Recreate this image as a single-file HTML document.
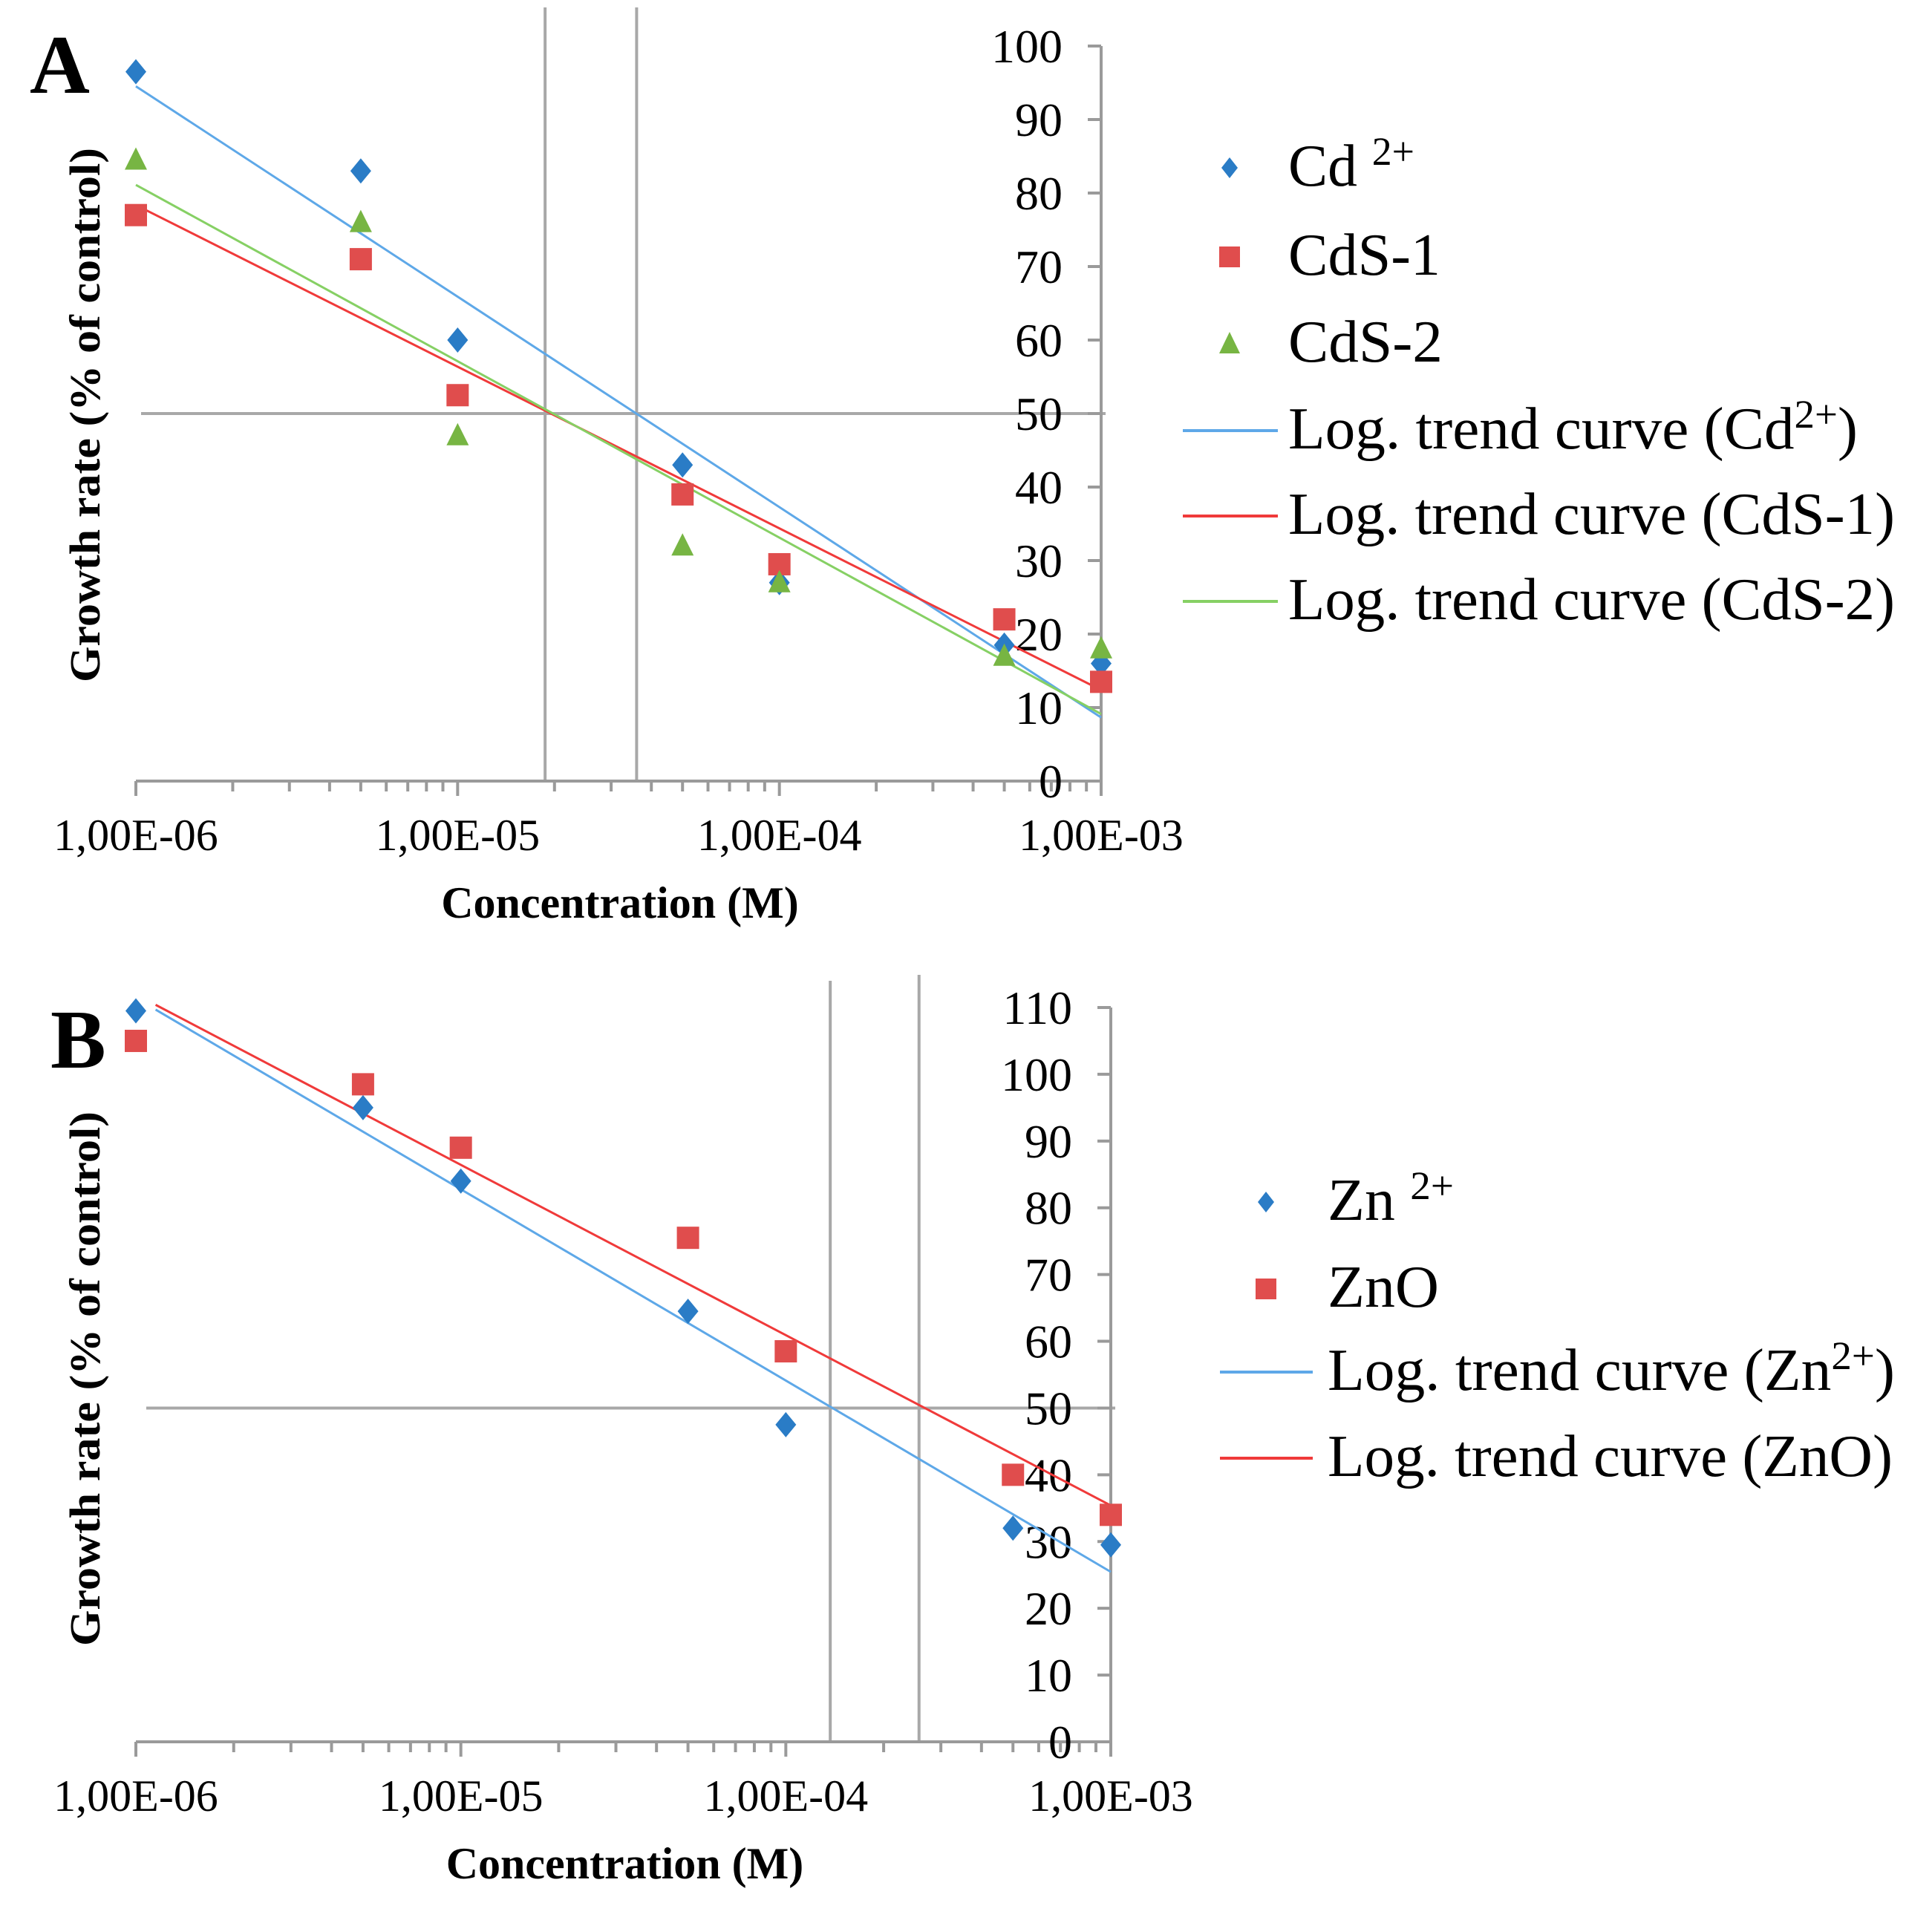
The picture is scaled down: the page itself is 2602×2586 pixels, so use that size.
<!DOCTYPE html>
<html><head><meta charset="utf-8"><style>
html,body{margin:0;padding:0;background:#fff}
svg{display:block}
text{font-family:"Liberation Serif",serif;fill:#000}
</style></head><body>
<svg id="fig" width="2602" height="2586" viewBox="0 0 2602 2586" xmlns="http://www.w3.org/2000/svg">
<g id="chartA"></g>
<g id="chartB"></g>
</svg>
<script>
// ---- data: chart A ----
const concA = [1e-6, 5e-6, 1e-5, 5e-5, 1e-4, 5e-4, 1e-3];
const cdIon = [96.5, 83, 60, 43, 27, 18.5, 16];
const cdS1 = [77, 71, 52.5, 39, 29.5, 22, 13.5];
const cdS2 = [84.5, 76, 47, 32, 27, 17, 18];
const yTicksA = [0,10,20,30,40,50,60,70,80,90,100];
const ic50A = [1.87e-5, 3.6e-5];
// ---- data: chart B ----
const concB = [1e-6, 5e-6, 1e-5, 5e-5, 1e-4, 5e-4, 1e-3];
const znIon = [109.5, 95, 84, 64.5, 47.5, 32, 29.5];
const znO = [105, 98.5, 89, 75.5, 58.5, 40, 34];
const yTicksB = [0,10,20,30,40,50,60,70,80,90,100,110];
const ic50B = [1.37e-4, 2.57e-4];
const xTickLabels = ["1,00E-06","1,00E-05","1,00E-04","1,00E-03"];
const xDecades = [1e-6,1e-5,1e-4,1e-3];

const NS="http://www.w3.org/2000/svg";
const BLUE="#2a7cc6", RED="#e04d4d", GREEN="#77b543";
const LBLUE="#5ea8e8", LRED="#f03a3a", LGREEN="#86d064", GRID="#a8a8a8";
function mk(parent,tag,attrs){const e=document.createElementNS(NS,tag);for(const k in attrs)e.setAttribute(k,attrs[k]);parent.appendChild(e);return e;}

function fit(xs,ys){const lx=xs.map(v=>Math.log10(v));const n=lx.length;
 const mx=lx.reduce((a,b)=>a+b)/n,my=ys.reduce((a,b)=>a+b)/n;let sxy=0,sxx=0;
 for(let i=0;i<n;i++){sxy+=(lx[i]-mx)*(ys[i]-my);sxx+=(lx[i]-mx)**2;}
 const b=sxy/sxx;return {a:my-b*mx,b:b};}

function drawChart(g,cfg){
 const X=v=>cfg.x0+(Math.log10(v)+6)*(cfg.x1-cfg.x0)/3;
 const Y=v=>cfg.y0-(v-0)*(cfg.y0-cfg.yTop)/cfg.yMax;
 const h=mk(g,'line',{x1:cfg.hStart,x2:cfg.x1+6,y1:Y(50),y2:Y(50),stroke:GRID,'stroke-width':4});
 
 
 cfg.ic50.forEach((v,i)=>{const l=mk(g,'line',{x1:X(v),x2:X(v),y1:cfg.vTop[i],y2:cfg.y0,stroke:GRID,'stroke-width':4});
  
  });
 const ax=mk(g,'g',{stroke:"#9a9a9a",'stroke-width':4,fill:'none'});
 
 
 mk(ax,'line',{x1:cfg.x0,x2:cfg.x1,y1:cfg.y0,y2:cfg.y0});
 mk(ax,'line',{x1:cfg.x1,x2:cfg.x1,y1:cfg.y0,y2:cfg.yTop});
 for(let d=-6;d<-3;d++){for(let m=1;m<10;m++){const xv=X(m*Math.pow(10,d));
  mk(ax,'line',{x1:xv,x2:xv,y1:cfg.y0,y2:cfg.y0+(m==1?20:14)});}}
 mk(ax,'line',{x1:cfg.x1,x2:cfg.x1,y1:cfg.y0,y2:cfg.y0+20});
 cfg.yTicks.forEach(t=>{mk(ax,'line',{x1:cfg.x1-18,x2:cfg.x1,y1:Y(t),y2:Y(t)});
  const tx=mk(g,'text',{x:cfg.x1-52,y:Y(t)+22,'font-size':64,'text-anchor':'end'});
  tx.textContent=t;
  
  });
 xDecades.forEach((v,i)=>{const tx=mk(g,'text',{x:X(v),y:cfg.y0+93,'font-size':60,'text-anchor':'middle'});
  tx.textContent=xTickLabels[i];
  
  });
 cfg.series.forEach(s=>{const f=fit(cfg.xs,s.ys);const xa=cfg.trendStart,xb=1e-3;
  const l=mk(g,'line',{x1:X(xa),x2:X(xb),y1:Y(f.a+f.b*Math.log10(xa)),y2:Y(f.a+f.b*Math.log10(xb)),stroke:s.line,'stroke-width':3});
  
  });
 cfg.series.forEach(s=>{s.ys.forEach((v,i)=>{const cx=X(cfg.xs[i]),cy=Y(v);let m;
  if(s.shape=='d')m=mk(g,'path',{d:`M${cx},${cy-17}L${cx+14},${cy}L${cx},${cy+17}L${cx-14},${cy}Z`,fill:s.color});
  else if(s.shape=='s')m=mk(g,'rect',{x:cx-15,y:cy-15,width:30,height:30,fill:s.color});
  else m=mk(g,'path',{d:`M${cx},${cy-17}L${cx+15},${cy+13}L${cx-15},${cy+13}Z`,fill:s.color});
  
  });});
 const xt=mk(g,'text',{x:(cfg.x0+cfg.x1)/2+2,y:cfg.y0+184,'font-size':60,'font-weight':'bold','text-anchor':'middle'});
 xt.textContent="Concentration (M)";
 
 
 const yt=mk(g,'text',{x:0,y:0,'font-size':58,'font-weight':'bold','text-anchor':'middle',transform:`translate(134,${cfg.yTitleY}) rotate(-90)`,textLength:720,lengthAdjust:'spacingAndGlyphs'});
 yt.textContent="Growth rate (% of control)";
 
 
 const pl=mk(g,'text',{x:cfg.labelX,y:cfg.labelY,'font-size':112,'font-weight':'bold'});
 pl.textContent=cfg.label;
 
 
 cfg.legend.forEach(e=>{const lg=mk(g,'g',{});
  
  
  const cy=e.y-24;
  if(e.shape=='d')mk(lg,'path',{d:`M${cfg.legMarkX},${cy-14}L${cfg.legMarkX+11},${cy}L${cfg.legMarkX},${cy+14}L${cfg.legMarkX-11},${cy}Z`,fill:e.color});
  else if(e.shape=='s')mk(lg,'rect',{x:cfg.legMarkX-14,y:cy-14,width:28,height:28,fill:e.color});
  else if(e.shape=='t')mk(lg,'path',{d:`M${cfg.legMarkX},${cy-16}L${cfg.legMarkX+14},${cy+13}L${cfg.legMarkX-14},${cy+13}Z`,fill:e.color});
  else mk(lg,'line',{x1:cfg.legLine[0],x2:cfg.legLine[1],y1:cy,y2:cy,stroke:e.color,'stroke-width':4});
  const attrs={x:cfg.legTextX,y:e.y,'font-size':80};
  if(e.w){attrs.textLength=e.w;attrs.lengthAdjust='spacingAndGlyphs';}
  const t=mk(lg,'text',attrs);t.innerHTML=e.html;});
}

drawChart(document.getElementById('chartA'),{
 x0:183,x1:1483,y0:1052,yTop:62,yMax:100,xs:concA,yTicks:yTicksA,ic50:ic50A,vTop:[10,10],hStart:190,
 trendStart:1e-6,yTitleY:559,label:"A",labelX:40,labelY:125,
 series:[{id:'cd2',ys:cdIon,color:BLUE,line:LBLUE,shape:'d'},{id:'cds1',ys:cdS1,color:RED,line:LRED,shape:'s'},{id:'cds2',ys:cdS2,color:GREEN,line:LGREEN,shape:'t'}],
 legMarkX:1656,legTextX:1735,legLine:[1593,1721],
 legend:[{y:250,shape:'d',color:BLUE,w:170,html:'Cd <tspan dy="-28" font-size="54">2+</tspan>'},
  {y:370,shape:'s',color:RED,w:205,html:'CdS-1'},
  {y:487,shape:'t',color:GREEN,w:208,html:'CdS-2'},
  {y:604,shape:'l',color:LBLUE,w:767,html:'Log. trend curve (Cd<tspan dy="-28" font-size="54">2+</tspan><tspan dy="28">)</tspan>'},
  {y:719,shape:'l',color:LRED,w:817,html:'Log. trend curve (CdS-1)'},
  {y:834,shape:'l',color:LGREEN,w:817,html:'Log. trend curve (CdS-2)'}]
});
drawChart(document.getElementById('chartB'),{
 x0:183,x1:1496,y0:2346,yTop:1357,yMax:110,xs:concB,yTicks:yTicksB,ic50:ic50B,vTop:[1321,1313],hStart:197,
 trendStart:1.15e-6,yTitleY:1857,label:"B",labelX:68,labelY:1438,
 series:[{id:'zn2',ys:znIon,color:BLUE,line:LBLUE,shape:'d'},{id:'zno',ys:znO,color:RED,line:LRED,shape:'s'}],
 legMarkX:1705,legTextX:1788,legLine:[1643,1768],
 legend:[{y:1643,shape:'d',color:BLUE,w:170,html:'Zn <tspan dy="-28" font-size="54">2+</tspan>'},
  {y:1760,shape:'s',color:RED,w:150,html:'ZnO'},
  {y:1872,shape:'l',color:LBLUE,w:764,html:'Log. trend curve (Zn<tspan dy="-28" font-size="54">2+</tspan><tspan dy="28">)</tspan>'},
  {y:1988,shape:'l',color:LRED,w:761,html:'Log. trend curve (ZnO)'}]
});
</script>
</body></html>
